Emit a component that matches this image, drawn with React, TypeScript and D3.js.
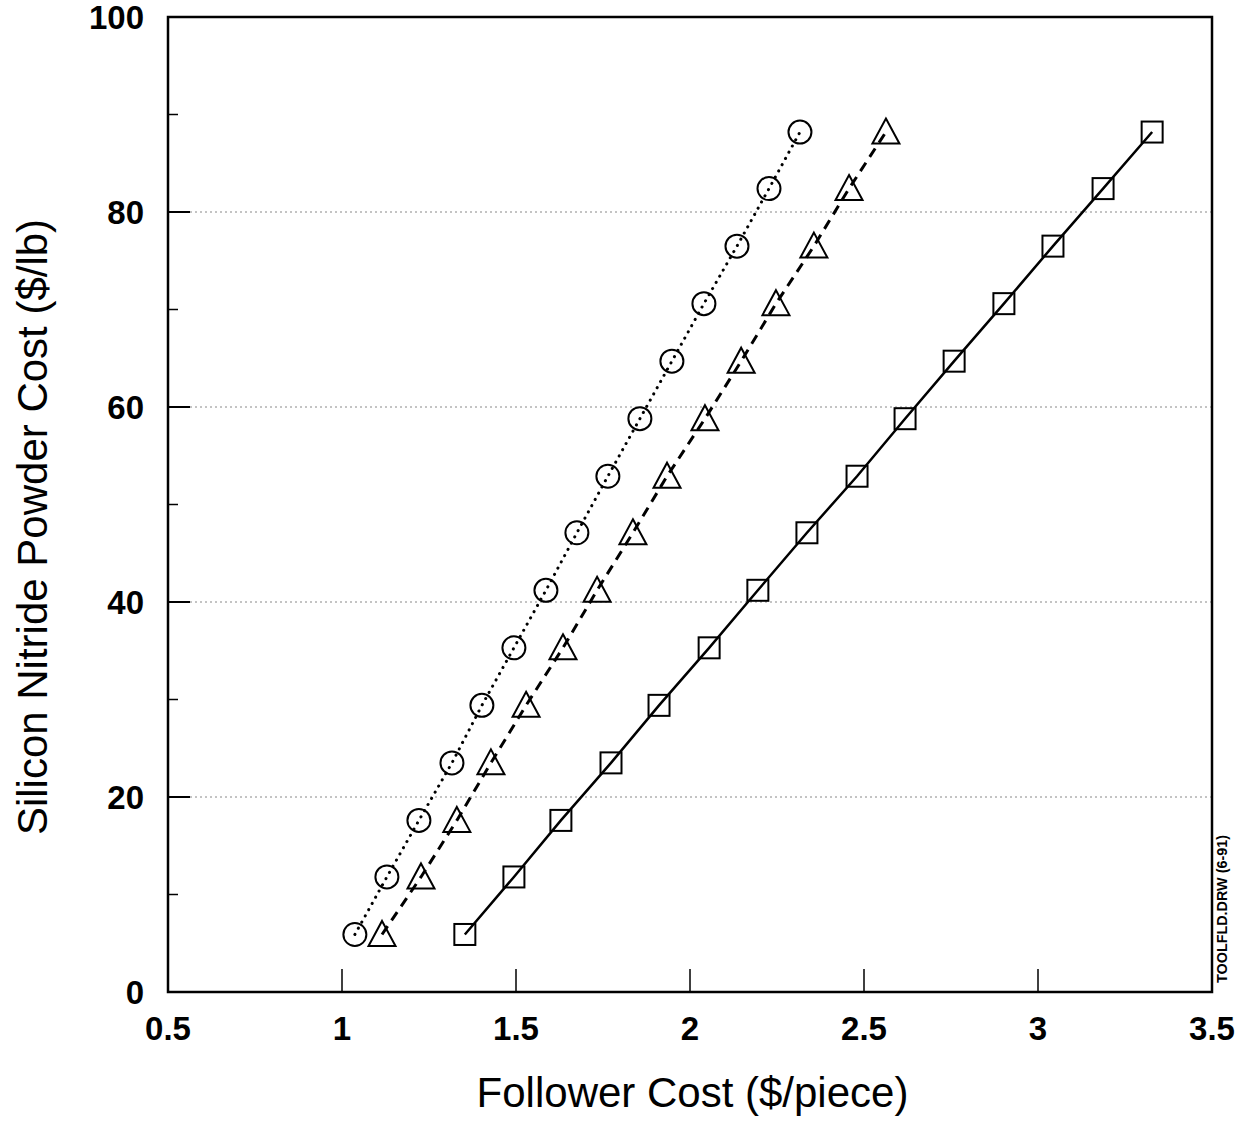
import { scaleLinear, line } from 'd3'

const yValues = [5.9, 11.8, 17.6, 23.5, 29.4, 35.3, 41.2, 47.1, 52.9, 58.8, 64.7, 70.6, 76.5, 82.4, 88.2]
const circleX = [1.037, 1.129, 1.221, 1.316, 1.402, 1.494, 1.586, 1.675, 1.764, 1.856, 1.948, 2.04, 2.135, 2.227, 2.316]
const triangleX = [1.115, 1.227, 1.33, 1.428, 1.529, 1.635, 1.733, 1.836, 1.934, 2.043, 2.147, 2.247, 2.356, 2.457, 2.563]
const squareX = [1.353, 1.494, 1.629, 1.773, 1.911, 2.055, 2.195, 2.336, 2.48, 2.618, 2.759, 2.902, 3.043, 3.187, 3.328]

const xTicks = [0.5, 1, 1.5, 2, 2.5, 3, 3.5]
const yTicks = [0, 20, 40, 60, 80, 100]
const yMinorTicks = [10, 30, 50, 70, 90]
const gridValues = [20, 40, 60, 80]

const width = 1249
const height = 1122
const margin = { top: 17, right: 37, bottom: 130, left: 168 }

const App = () => {
  const innerWidth = width - margin.left - margin.right
  const innerHeight = height - margin.top - margin.bottom

  const xScale = scaleLinear().domain([0.5, 3.5]).range([0, innerWidth])
  const yScale = scaleLinear().domain([0, 100]).range([innerHeight, 0])

  const lineGen = line<[number, number]>()
    .x((d) => xScale(d[0]))
    .y((d) => yScale(d[1]))

  const zip = (xs: number[]) => xs.map((x, i) => [x, yValues[i]] as [number, number])

  const font = 'Liberation Sans, Arial, Helvetica, sans-serif'

  return (
    <svg
      width={width}
      height={height}
      style={{ position: 'absolute', left: 0, top: 0, background: 'white' }}
    >
      <g transform={`translate(${margin.left} ${margin.top})`}>
        {/* grid */}
        {gridValues.map((v) => (
          <line
            key={'g' + v}
            x1={22}
            x2={innerWidth}
            y1={yScale(v)}
            y2={yScale(v)}
            stroke="#888"
            strokeWidth={1}
            strokeDasharray="2 3"
          />
        ))}

        {/* y ticks */}
        {yTicks.map((v) => (
          <line key={'yt' + v} x1={0} x2={22} y1={yScale(v)} y2={yScale(v)} stroke="black" strokeWidth={2} />
        ))}
        {yMinorTicks.map((v) => (
          <line key={'ym' + v} x1={0} x2={10} y1={yScale(v)} y2={yScale(v)} stroke="black" strokeWidth={1.5} />
        ))}
        {yTicks.map((v) => (
          <text
            key={'yl' + v}
            x={-24}
            y={yScale(v)}
            dy="0.36em"
            textAnchor="end"
            fontFamily={font}
            fontWeight="bold"
            fontSize={33}
          >
            {v}
          </text>
        ))}

        {/* x ticks */}
        {xTicks.slice(1, -1).map((v) => (
          <line
            key={'xt' + v}
            x1={xScale(v)}
            x2={xScale(v)}
            y1={innerHeight}
            y2={innerHeight - 23}
            stroke="black"
            strokeWidth={1.5}
          />
        ))}
        {xTicks.map((v) => (
          <text
            key={'xl' + v}
            x={xScale(v)}
            y={innerHeight + 48}
            textAnchor="middle"
            fontFamily={font}
            fontWeight="bold"
            fontSize={33}
          >
            {v}
          </text>
        ))}

        {/* series lines */}
        <path
          d={lineGen(zip(circleX)) ?? ''}
          fill="none"
          stroke="black"
          strokeWidth={3}
          strokeDasharray="0.1 7"
          strokeLinecap="round"
        />
        <path
          d={lineGen(zip(triangleX)) ?? ''}
          fill="none"
          stroke="black"
          strokeWidth={3}
          strokeDasharray="10 7"
        />
        <path d={lineGen(zip(squareX)) ?? ''} fill="none" stroke="black" strokeWidth={2.5} />

        {/* markers */}
        {zip(circleX).map((d, i) => (
          <circle key={'c' + i} cx={xScale(d[0])} cy={yScale(d[1])} r={11.5} fill="none" stroke="black" strokeWidth={2} />
        ))}
        {zip(triangleX).map((d, i) => {
          const cx = xScale(d[0])
          const cy = yScale(d[1])
          const s = 13.5
          return (
            <path
              key={'t' + i}
              d={`M${cx},${cy - s} L${cx + s},${cy + s * 0.85} L${cx - s},${cy + s * 0.85} Z`}
              fill="none"
              stroke="black"
              strokeWidth={2}
            />
          )
        })}
        {zip(squareX).map((d, i) => (
          <rect
            key={'s' + i}
            x={xScale(d[0]) - 10.5}
            y={yScale(d[1]) - 10.5}
            width={21}
            height={21}
            fill="none"
            stroke="black"
            strokeWidth={2}
          />
        ))}

        {/* frame */}
        <rect x={0} y={0} width={innerWidth} height={innerHeight} fill="none" stroke="black" strokeWidth={2.5} />

        {/* axis titles */}
        <text
          x={(473 + 912) / 2 - margin.left}
          y={innerHeight + 115}
          textAnchor="middle"
          fontFamily={font}
          fontSize={42}
          fill="black"
        >
          Follower Cost ($/piece)
        </text>
        <text
          transform={`translate(${-121} ${527 - margin.top}) rotate(-90)`}
          textAnchor="middle"
          fontFamily={font}
          fontSize={42}
          fill="black"
        >
          Silicon Nitride Powder Cost ($/lb)
        </text>

        <text
          transform={`translate(${innerWidth + 15} ${innerHeight - 9}) rotate(-90)`}
          textAnchor="start"
          fontFamily={font}
          fontWeight="bold"
          fontSize={14}
          textLength={148}
          lengthAdjust="spacingAndGlyphs"
          fill="black"
        >
          TOOLFLD.DRW (6-91)
        </text>
      </g>
    </svg>
  )
}

export default App
